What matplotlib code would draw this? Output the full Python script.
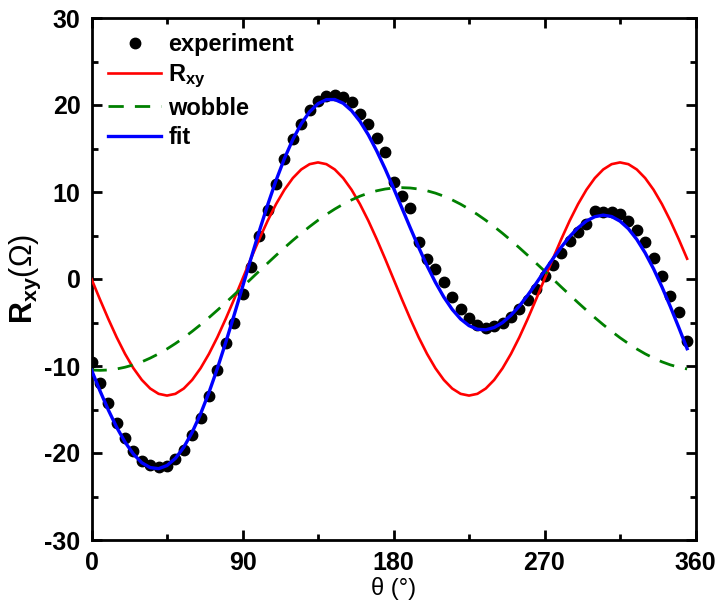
import matplotlib
matplotlib.use("Agg")
import matplotlib.pyplot as plt
import numpy as np

# ---- data ----
theta = list(range(0, 360, 5))  # 0..355 deg

experiment = [-9.5, -11.9, -14.3, -16.5, -18.3, -19.8, -20.9, -21.4, -21.6, -21.5,
              -20.7, -19.6, -17.9, -16.0, -13.5, -10.5, -7.4, -5.1, -1.7, 1.4,
              4.9, 7.9, 10.9, 13.8, 16.1, 17.8, 19.4, 20.5, 21.0, 21.1,
              20.9, 20.4, 19.0, 17.8, 16.2, 14.6, 11.2, 9.5, 8.2, 4.2,
              2.3, 1.2, -0.4, -2.1, -3.5, -4.5, -5.3, -5.6, -5.4, -5.0,
              -4.4, -3.5, -2.4, -1.2, 0.3, 1.6, 3.0, 4.4, 5.4, 6.3,
              7.8, 7.7, 7.7, 7.5, 6.7, 5.6, 4.2, 2.4, 0.3, -2.0,
              -3.8, -7.1]

rxy = [0.0, -2.33, -4.58, -6.70, -8.61, -10.26, -11.60, -12.59, -13.20, -13.40,
       -13.20, -12.59, -11.60, -10.26, -8.61, -6.70, -4.58, -2.33, 0.0, 2.33,
       4.58, 6.70, 8.61, 10.26, 11.60, 12.59, 13.20, 13.40, 13.20, 12.59,
       11.60, 10.26, 8.61, 6.70, 4.58, 2.33, 0.0, -2.33, -4.58, -6.70,
       -8.61, -10.26, -11.60, -12.59, -13.20, -13.40, -13.20, -12.59, -11.60, -10.26,
       -8.61, -6.70, -4.58, -2.33, 0.0, 2.33, 4.58, 6.70, 8.61, 10.26,
       11.60, 12.59, 13.20, 13.40, 13.20, 12.59, 11.60, 10.26, 8.61, 6.70,
       4.58, 2.33]

wobble = [-10.46, -10.50, -10.46, -10.34, -10.14, -9.87, -9.52, -9.09, -8.60, -8.04,
          -7.42, -6.75, -6.02, -5.25, -4.44, -3.59, -2.72, -1.82, -0.92, 0.0,
          0.92, 1.82, 2.72, 3.59, 4.44, 5.25, 6.02, 6.75, 7.42, 8.04,
          8.60, 9.09, 9.52, 9.87, 10.14, 10.34, 10.46, 10.50, 10.46, 10.34,
          10.14, 9.87, 9.52, 9.09, 8.60, 8.04, 7.42, 6.75, 6.02, 5.25,
          4.44, 3.59, 2.72, 1.82, 0.92, 0.0, -0.92, -1.82, -2.72, -3.59,
          -4.44, -5.25, -6.02, -6.75, -7.42, -8.04, -8.60, -9.09, -9.52, -9.87,
          -10.14, -10.34]

fit = [-10.46, -12.83, -15.04, -17.04, -18.75, -20.13, -21.12, -21.68, -21.80, -21.44,
       -20.62, -19.34, -17.62, -15.51, -13.05, -10.29, -7.30, -4.15, -0.92, 2.33,
       5.50, 8.52, 11.33, 13.85, 16.04, 17.84, 19.22, 20.15, 20.62, 20.63,
       20.20, 19.35, 18.13, 16.57, 14.72, 12.67, 10.46, 8.17, 5.88, 3.64,
       1.53, -0.39, -2.08, -3.50, -4.60, -5.36, -5.78, -5.84, -5.58, -5.01,
       -4.17, -3.11, -1.86, -0.51, 0.92, 2.33, 3.66, 4.88, 5.89, 6.67,
       7.16, 7.34, 7.18, 6.65, 5.78, 4.55, 3.00, 1.17, -0.91, -3.17,
       -5.56, -8.01]

xticks = [0, 90, 180, 270, 360]
yticks = [-30, -20, -10, 0, 10, 20, 30]

# ---- style ----
plt.rcParams['font.family'] = ['Liberation Sans', 'DejaVu Sans']
plt.rcParams['mathtext.fontset'] = 'custom'
plt.rcParams['mathtext.rm'] = 'Liberation Sans'
plt.rcParams['mathtext.bf'] = 'Liberation Sans:bold'
plt.rcParams['mathtext.it'] = 'Liberation Sans:italic'
plt.rcParams['axes.unicode_minus'] = False

fig = plt.figure(figsize=(7.2, 6.04), dpi=100)
ax = fig.add_axes([91.5/720, 1-540/604, (695.5-91.5)/720, (540-18)/604])

ax.plot(theta, experiment, 'o', color='black', markersize=7.5, label='experiment', zorder=2)
ax.plot(theta, rxy, '-', color='#ff0000', lw=1.9, label=r'$\mathbf{R_{xy}}$', zorder=3)
ax.plot(theta, wobble, color='#008000', lw=2.0, linestyle=(0, (5.5, 4)), label='wobble', zorder=3)
ax.plot(theta, fit, '-', color='#0000ff', lw=2.4, label='fit', zorder=4)

ax.set_xlim(0, 360)
ax.set_ylim(-30, 30)
ax.set_xticks(xticks)
ax.set_yticks(yticks)
ax.set_xticks(np.arange(45, 360, 90), minor=True)
ax.set_yticks(np.arange(-25, 30, 10), minor=True)

for s in ax.spines.values():
    s.set_linewidth(2.0)

ax.tick_params(which='both', direction='in', top=True, right=True, width=2.0)
ax.tick_params(which='major', length=7, labelsize=18, pad=8)
ax.tick_params(which='minor', length=4)
for lab in ax.get_xticklabels() + ax.get_yticklabels():
    lab.set_fontweight('bold')

ax.set_xlabel('θ (°)', fontsize=17, labelpad=1)
ax.set_ylabel(r'$\mathbf{R_{xy}}$(Ω)', fontsize=22, labelpad=1)

leg = ax.legend(loc='upper left', frameon=False, numpoints=1,
                prop={'weight': 'bold', 'size': 17},
                handlelength=2.25, handletextpad=0.3, labelspacing=0.28,
                borderaxespad=0.3, bbox_to_anchor=(0.0, 1.003))

fig.savefig('out.png', dpi=100)
